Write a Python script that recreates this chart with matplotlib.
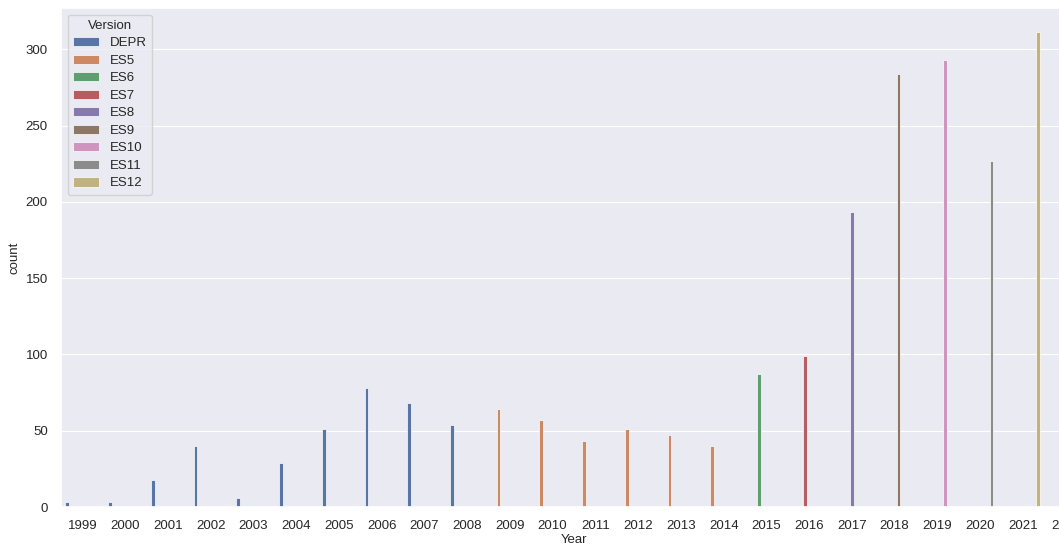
import matplotlib
matplotlib.use("Agg")
import matplotlib.pyplot as plt
import numpy as np
import seaborn as sns

sns.set_theme(style="darkgrid")
plt.rcParams["font.family"] = ["Liberation Sans", "DejaVu Sans"]

years = [str(y) for y in range(1999, 2023)]
versions = ["DEPR", "ES5", "ES6", "ES7", "ES8", "ES9", "ES10", "ES11", "ES12"]

# one count per year, version of that year
year_version = ["DEPR"] * 10 + ["ES5"] * 6 + ["ES6", "ES7", "ES8", "ES9", "ES10", "ES11", "ES12", "ES12"]
counts = [3, 3, 18, 40, 6, 29, 51, 78, 68, 54,
          64, 57, 43, 51, 47, 40,
          87, 99, 193, 284, 293, 227, 311, 120]

# seaborn bar plots use saturation 0.75
palette = [sns.desaturate(c, 0.75) for c in sns.color_palette("deep", len(versions))]

W, H = 1059, 545
fig = plt.figure(figsize=(W / 100, H / 100), dpi=100)
ax = fig.add_axes([61 / W, (H - 507) / H, (1087 - 61) / W, (507 - 8) / H])

n = len(versions)
bw = 0.8 / n
x = np.arange(len(years))
for j, v in enumerate(versions):
    h = [c if yv == v else 0 for c, yv in zip(counts, year_version)]
    ax.bar(x - 0.4 + (j + 0.5) * bw, h, width=bw, color=palette[j],
           edgecolor="white", linewidth=0.5, label=v)

ax.grid(axis="x", visible=False)
ax.grid(axis="y", linewidth=0.8)
ax.set_xticks(x)
ax.set_xticklabels(years, fontsize=9.5)
ax.tick_params(axis="y", labelsize=9.5)
ax.set_xlim(-0.5, len(years) - 0.5)
ax.set_ylim(0, 327)
ax.set_yticks([0, 50, 100, 150, 200, 250, 300])
ax.set_xlabel("Year", fontsize=9.5, labelpad=1)
ax.set_ylabel("count", fontsize=9.5)

leg = ax.legend(title="Version", loc="upper left", fontsize=9.5, title_fontsize=9.5,
                labelspacing=0.4)

fig.savefig("out.png", dpi=100)
